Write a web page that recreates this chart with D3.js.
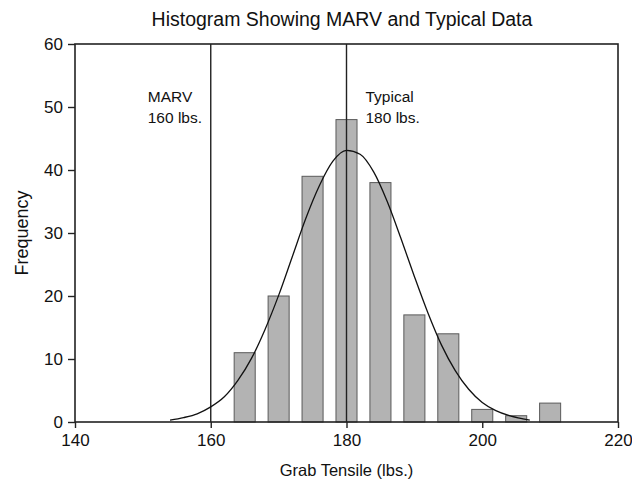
<!DOCTYPE html>
<html>
<head>
<meta charset="utf-8">
<script src="https://cdn.jsdelivr.net/npm/d3@7"></script>
<style>
  body { margin: 0; background: #fff; }
  svg text { font-family: "Liberation Sans", Arial, sans-serif; fill: #111; }
</style>
</head>
<body>
<svg id="chart" width="632" height="484"></svg>
<script>
// histogram bins (centre of bin, lbs.) and counts
const binCentres = [165, 170, 175, 180, 185, 190, 195, 200, 205, 210];
const counts = [11, 20, 39, 48, 38, 17, 14, 2, 1, 3];

// fitted curve
const curveX = [154, 156, 158, 160, 162, 164, 166, 168, 170, 172, 174, 176, 178, 180,
                182, 184, 186, 188, 190, 192, 194, 196, 198, 200, 202, 204, 206, 207];
const curveY = [0.3, 0.7, 1.3, 2.4, 4.0, 6.6, 10.1, 14.7, 20.1, 26.2, 32.3, 37.5, 41.4, 43.1,
                42.5, 39.7, 35.0, 29.2, 23.1, 17.3, 12.2, 8.2, 5.2, 3.1, 1.8, 1.0, 0.5, 0.3];

// reference lines
const refLines = [
  { value: 160, label: ["MARV", "160 lbs."], dx: -63 },
  { value: 180, label: ["Typical", "180 lbs."], dx: 19 }
];

const xTicks = [140, 160, 180, 200, 220];
const yTicks = [0, 10, 20, 30, 40, 50, 60];
const binWidth = 3.1;

const svg = d3.select("#chart");
const margin = { left: 75, right: 14, top: 44, bottom: 62 };
const width = 632 - margin.left - margin.right;
const height = 484 - margin.top - margin.bottom;

const x = d3.scaleLinear().domain([140, 220]).range([0, width]);
const y = d3.scaleLinear().domain([0, 60]).range([height, 0]);

const g = svg.append("g")
    .attr("transform", `translate(${margin.left},${margin.top})`);

// bars
g.append("g")
    .selectAll("rect")
    .data(binCentres)
    .join("rect")
    .attr("x", (d) => x(d - binWidth / 2))
    .attr("y", (d, i) => y(counts[i]))
    .attr("width", x(140 + binWidth) - x(140))
    .attr("height", (d, i) => y(0) - y(counts[i]))
    .attr("fill", "#b3b3b3")
    .attr("stroke", "#5a5a5a")
    .attr("stroke-width", 1);

// vertical reference lines
g.append("g")
    .selectAll("line")
    .data(refLines)
    .join("line")
    .attr("x1", (d) => x(d.value))
    .attr("x2", (d) => x(d.value))
    .attr("y1", 0)
    .attr("y2", height)
    .attr("stroke", "#222")
    .attr("stroke-width", 1.4);

// curve
const line = d3.line()
    .x((d, i) => x(curveX[i]))
    .y((d) => y(d))
    .curve(d3.curveMonotoneX);

g.append("path")
    .attr("d", line(curveY))
    .attr("fill", "none")
    .attr("stroke", "#111")
    .attr("stroke-width", 1.3);

// frame
g.append("rect")
    .attr("width", width)
    .attr("height", height)
    .attr("fill", "none")
    .attr("stroke", "#222")
    .attr("stroke-width", 1.6);

// axes
const xAxis = g.append("g")
    .attr("transform", `translate(0,${height})`)
    .call(d3.axisBottom(x).tickValues(xTicks).tickSize(6).tickPadding(6));
const yAxis = g.append("g")
    .call(d3.axisLeft(y).tickValues(yTicks).tickSize(7).tickPadding(5));

[xAxis, yAxis].forEach((a) => {
  a.select(".domain").remove();
  a.selectAll(".tick line").attr("stroke", "#222").attr("stroke-width", 1.4);
  a.selectAll(".tick text").attr("font-size", 17).attr("fill", "#111")
      .style("font-family", '"Liberation Sans", Arial, sans-serif');
});

// reference labels
refLines.forEach((r) => {
  const t = g.append("text")
      .attr("y", 102 - margin.top)
      .attr("font-size", 15.5);
  r.label.forEach((s, i) => {
    t.append("tspan")
        .attr("x", x(r.value) + r.dx)
        .attr("dy", i === 0 ? 0 : 21)
        .text(s);
  });
});

// title
svg.append("text")
    .attr("x", 342)
    .attr("y", 26)
    .attr("text-anchor", "middle")
    .attr("font-size", 19.5)
    .text("Histogram Showing MARV and Typical Data");

// axis titles
svg.append("text")
    .attr("x", margin.left + x(180))
    .attr("y", 476)
    .attr("text-anchor", "middle")
    .attr("font-size", 16.5)
    .text("Grab Tensile (lbs.)");

svg.append("text")
    .attr("transform", `translate(28,${margin.top + height / 2}) rotate(-90)`)
    .attr("text-anchor", "middle")
    .attr("font-size", 18)
    .text("Frequency");
</script>
</body>
</html>
